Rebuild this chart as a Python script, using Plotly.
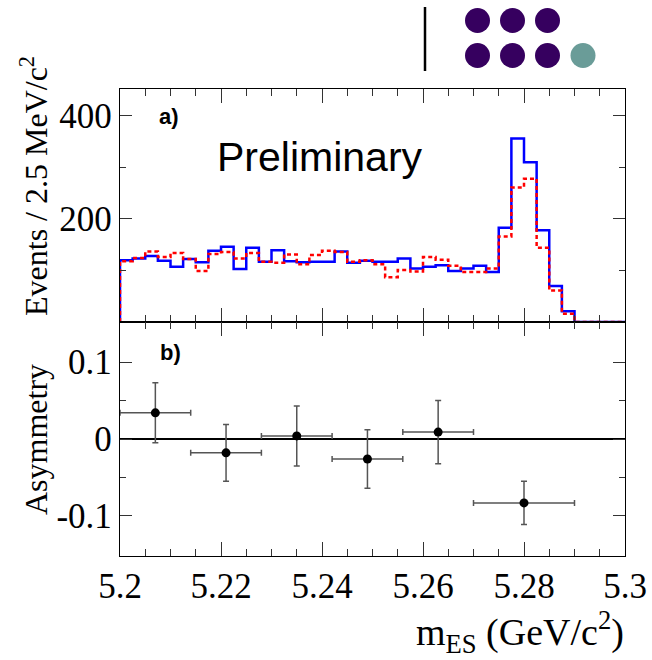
import numpy as np
import plotly.graph_objects as go

# ---------------- data ----------------
bin_low = 5.2
bin_width = 0.0025
n_bins = 40

blue_counts = [120, 123, 128, 119, 107, 122, 116, 138, 146, 103,
               144, 117, 139, 118, 116, 117, 117, 137, 115, 119,
               117, 117, 123, 104, 107, 110, 99, 104, 109, 97,
               183, 356, 310, 178, 70, 21, 0, 0, 0, 0]
red_counts = [118, 124, 137, 126, 134, 122, 99, 132, 136, 123,
              134, 117, 115, 131, 112, 130, 138, 136, 117, 120,
              112, 87, 101, 98, 126, 121, 109, 97, 97, 104,
              166, 261, 278, 144, 61, 16, 0, 0, 0, 0]

asym_x = [5.207, 5.221, 5.235, 5.249, 5.263, 5.280]
asym_xerr = [0.007, 0.007, 0.007, 0.007, 0.007, 0.010]
asym_y = [0.034, -0.018, 0.004, -0.026, 0.009, -0.083]
asym_yerr = [0.039, 0.037, 0.039, 0.038, 0.041, 0.028]

x_ticks = [5.2, 5.22, 5.24, 5.26, 5.28, 5.3]
x_ticktext = ["5.2", "5.22", "5.24", "5.26", "5.28", "5.3"]
top_ticks = [200, 400]
top_ticktext = ["200", "400"]
bot_ticks = [-0.1, 0, 0.1]
bot_ticktext = ["-0.1", "0", "0.1"]

# ---------------- geometry helpers ----------------
W, H = 652, 660
def px(x):
    return x / W
def py(y):
    return 1 - y / H

edges = bin_low + bin_width * np.arange(n_bins + 1)

def step_xy(counts):
    xs = np.concatenate([[edges[0]], edges])
    ys = np.concatenate([[0], counts, [counts[-1]]])
    return xs, ys

fig = go.Figure()

bx, by = step_xy(blue_counts)
rx, ry = step_xy(red_counts)
fig.add_trace(go.Scatter(x=bx, y=by, mode="lines", line_shape="hv",
                         line=dict(color="#0000ff", width=2.5),
                         xaxis="x", yaxis="y", showlegend=False))
fig.add_trace(go.Scatter(x=rx, y=ry, mode="lines", line_shape="hv",
                         line=dict(color="#ff0000", width=2.5, dash="4px,3px"),
                         xaxis="x", yaxis="y", showlegend=False))

fig.add_trace(go.Scatter(
    x=asym_x, y=asym_y, mode="markers",
    marker=dict(color="black", size=9),
    error_x=dict(type="data", array=asym_xerr, color="#555555", thickness=1.5, width=3),
    error_y=dict(type="data", array=asym_yerr, color="#555555", thickness=1.5, width=3),
    xaxis="x2", yaxis="y2", showlegend=False))

tickfont = dict(family="Liberation Serif", size=35, color="black")
xdom = [px(120), px(625)]
top_dom = [py(322), py(89)]
bot_dom = [py(556), py(322)]

common_x = dict(range=[5.2, 5.3], domain=xdom, showline=True, linecolor="black",
                linewidth=1.3, mirror="ticks", ticks="inside", ticklen=14,
                tickwidth=1.2, tickcolor="#333333", tickvals=x_ticks, ticktext=x_ticktext,
                minor=dict(dtick=0.005, tick0=5.2, ticklen=7, tickcolor="#333333",
                           tickwidth=1.2, ticks="inside"),
                showgrid=False, zeroline=False, tickfont=tickfont, automargin=False)

common_y = dict(showline=True, linecolor="black", linewidth=1.3, mirror="ticks",
                ticks="inside", ticklen=12, tickwidth=1.2, tickcolor="#333333",
                showgrid=False, tickfont=tickfont, ticklabelstandoff=0, automargin=False)

fig.update_layout(
    width=W, height=H,
    margin=dict(l=0, r=0, t=0, b=0, autoexpand=False),
    paper_bgcolor="white", plot_bgcolor="white",
    showlegend=False,
    xaxis=dict(common_x, anchor="y", showticklabels=False, matches="x2"),
    xaxis2=dict(common_x, anchor="y2", showticklabels=True, ticklabelstandoff=-1),
    yaxis=dict(common_y, domain=top_dom, range=[0, 452], anchor="x",
               tickvals=top_ticks, ticktext=top_ticktext,
               minor=dict(tickvals=[100, 300], ticklen=6, ticks="inside",
                          tickcolor="#333333", tickwidth=1.2),
               zeroline=False),
    yaxis2=dict(common_y, domain=bot_dom, range=[-0.152, 0.152], anchor="x2",
                tickvals=bot_ticks, ticktext=bot_ticktext,
                minor=dict(tickvals=[-0.05, 0.05], ticklen=6, ticks="inside",
                           tickcolor="#333333", tickwidth=1.2),
                zeroline=True, zerolinecolor="black", zerolinewidth=2),
)

annots = [
    dict(text="Events / 2.5 MeV/c<sup>2</sup>", x=px(34), y=py(186), textangle=-90,
         font=dict(family="Liberation Serif", size=32, color="black")),
    dict(text="Asymmetry", x=px(36), y=py(440), textangle=-90,
         font=dict(family="Liberation Serif", size=32, color="black")),
    dict(text="m<sub>ES</sub> (GeV/c<sup>2</sup>)", x=px(626), y=py(632), xanchor="right",
         font=dict(family="Liberation Serif", size=38, color="black")),
    dict(text="<b>a)</b>", x=px(169), y=py(117),
         font=dict(family="Liberation Sans", size=22, color="black")),
    dict(text="<b>b)</b>", x=px(170), y=py(353),
         font=dict(family="Liberation Sans", size=22, color="black")),
    dict(text="Preliminary", x=px(320), y=py(157),
         font=dict(family="Liberation Sans", size=41, color="black")),
]
for a in annots:
    base = dict(xref="paper", yref="paper", showarrow=False, xanchor="center", yanchor="middle")
    base.update(a)
    fig.add_annotation(**base)

# decorative logo in the top right corner
shapes = [dict(type="line", xref="paper", yref="paper", x0=px(425), x1=px(425),
               y0=py(7), y1=py(71), line=dict(color="black", width=2.5))]
purple = "#36005f"
teal = "#6a9c98"
r = 12.5
for (cx, cy, col) in [(477.5, 20.5, purple), (512.5, 20.5, purple), (547.5, 20.5, purple),
                      (477.5, 55.5, purple), (512.5, 55.5, purple), (547.5, 55.5, purple),
                      (583, 55.5, teal)]:
    shapes.append(dict(type="circle", xref="paper", yref="paper",
                       x0=px(cx - r), x1=px(cx + r), y0=py(cy + r), y1=py(cy - r),
                       fillcolor=col, line=dict(width=0)))
fig.update_layout(shapes=shapes)

fig.write_html("out.html")
